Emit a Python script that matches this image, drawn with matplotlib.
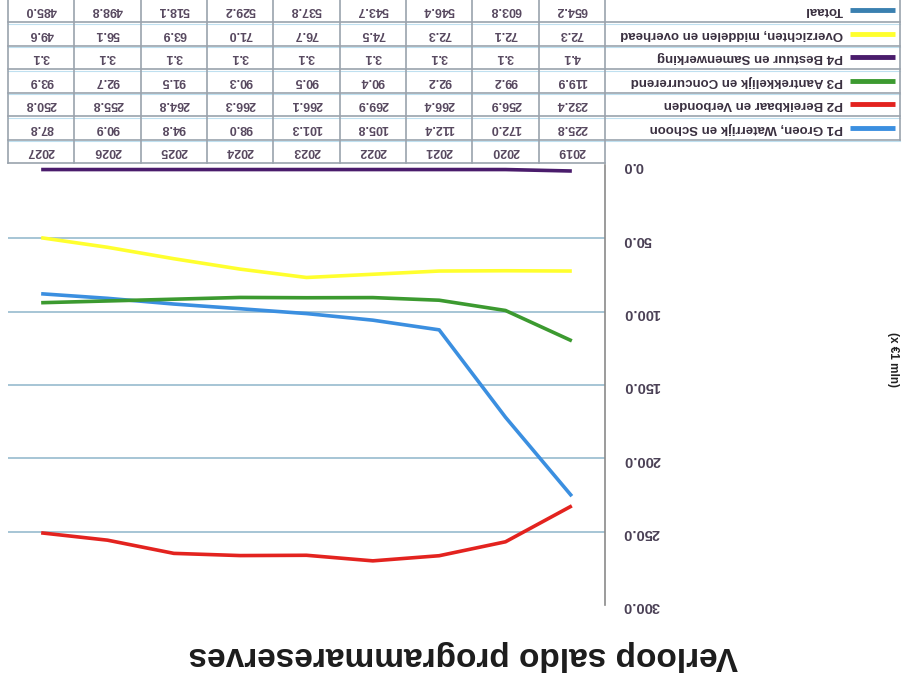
import numpy as np
import matplotlib.pyplot as plt

plt.rcParams['font.family'] = ['Liberation Sans', 'DejaVu Sans']

# data (mln euro), 2019..2027
years = ['2019', '2020', '2021', '2022', '2023', '2024', '2025', '2026', '2027']
p1 = [225.8, 172.0, 112.4, 105.8, 101.3, 98.0, 94.8, 90.9, 87.8]
p2 = [232.4, 256.9, 266.4, 269.9, 266.1, 266.3, 264.8, 255.8, 250.8]
p3 = [119.9, 99.2, 92.2, 90.4, 90.5, 90.3, 91.5, 92.7, 93.9]
p4 = [4.1, 3.1, 3.1, 3.1, 3.1, 3.1, 3.1, 3.1, 3.1]
overz = [72.3, 72.1, 72.3, 74.5, 76.7, 71.0, 63.9, 56.1, 49.6]
totaal = [654.2, 603.8, 546.4, 543.7, 537.8, 529.2, 518.1, 498.8, 485.0]

names = ['P1 Groen, Waterrijk en Schoon', 'P2 Bereikbaar en Verbonden',
         'P3 Aantrekkelijk en Concurrerend', 'P4 Bestuur en Samenwerking',
         'Overzichten, middelen en overhead', 'Totaal']
series = [p1, p2, p3, p4, overz, totaal]
colors = ['#3b8fe0', '#e3231f', '#3c9a30', '#4a1c6c', '#ffff2e', '#3a80b0']
yticks = [0, 50, 100, 150, 200, 250, 300]

title = 'Verloop saldo programmareserves'
unit = '(x €1 mln)'

W, H = 905, 685
fig = plt.figure(figsize=(W / 100, H / 100), dpi=100)

# the whole picture is upside down, so axes are inverted and text turned 180
x0, x1, ytop, ybot = 8, 605, 165, 605
ax = fig.add_axes([x0 / W, 1 - ybot / H, (x1 - x0) / W, (ybot - ytop) / H])
ax.set_facecolor('none')
x = np.arange(len(years))
for vals, c in zip(series, colors):
    ax.plot(x, vals, color=c, lw=2.6, solid_capstyle='butt', zorder=3)
ax.set_xlim(len(years) - 0.5, -0.5)
ax.set_ylim(yticks[-1], yticks[0])
for v in yticks[1:-1]:
    ax.axhline(v, color='#9fc0d2', lw=1.3, zorder=1)
for s in ['top', 'bottom', 'left']:
    ax.spines[s].set_visible(False)
ax.spines['right'].set_color('#8a8a8a')
ax.spines['right'].set_linewidth(1.2)
ax.yaxis.tick_right()
ax.set_yticks(yticks)
ax.set_yticklabels([f'{v:.1f}' for v in yticks], rotation=180, fontweight='bold')
ax.tick_params(axis='y', length=0, pad=13, labelsize=10.5, labelcolor='#4a4055')
ax.set_xticks([])

fig.text(463 / W, 1 - 655 / H, title, rotation=180, fontsize=24, fontweight='bold',
         color='#1c1c1c', ha='center', va='center')
fig.text(893 / W, 1 - 360 / H, unit, rotation=270, fontsize=8.5, fontweight='bold',
         color='#222222', ha='center', va='center')

# data table (drawn above the plot because of the rotation)
axt = fig.add_axes([0, 0, 1, 1])
axt.set_xlim(0, W)
axt.set_ylim(H, 0)
axt.axis('off')

col_w = (x1 - x0) / len(years)
row_h = 23.5
tab_bot = 163
lab_right = 900
grid_c = '#9aa3ad'
txt_c = '#57485f'

def col_center(i):
    return x1 - (i + 0.5) * col_w

# year row
for i, yr in enumerate(years):
    axt.text(col_center(i), tab_bot - row_h / 2, yr, rotation=180, ha='center', va='center',
             fontsize=9, fontweight='bold', color=txt_c)
axt.plot([x0, x1], [tab_bot, tab_bot], color=grid_c, lw=1.2)

for j, (name, vals, c) in enumerate(zip(names, series, colors)):
    rb = tab_bot - row_h * (j + 1)
    yc = rb - row_h / 2
    axt.plot([x0, lab_right], [rb, rb], color=grid_c, lw=1.2)
    axt.plot([x0, lab_right], [rb + 1.5, rb + 1.5], color='#bfe0f0', lw=0.8)
    for i, v in enumerate(vals):
        axt.text(col_center(i), yc, f'{v:.1f}', rotation=180, ha='center', va='center',
                 fontsize=9, fontweight='bold', color=txt_c)
    axt.plot([850, 895], [yc, yc], color=c, lw=3.5, solid_capstyle='butt')
    axt.text(843, yc, name, rotation=180, ha='right', va='center',
             fontsize=9.5, fontweight='bold', color='#3a3040')

top = tab_bot - row_h * (len(names) + 1)
for k in range(len(years) + 1):
    xv = x0 + k * col_w
    axt.plot([xv, xv], [top, tab_bot], color=grid_c, lw=1.2)
axt.plot([lab_right, lab_right], [top, tab_bot - row_h], color=grid_c, lw=1.2)

fig.savefig('out.png', dpi=100)
